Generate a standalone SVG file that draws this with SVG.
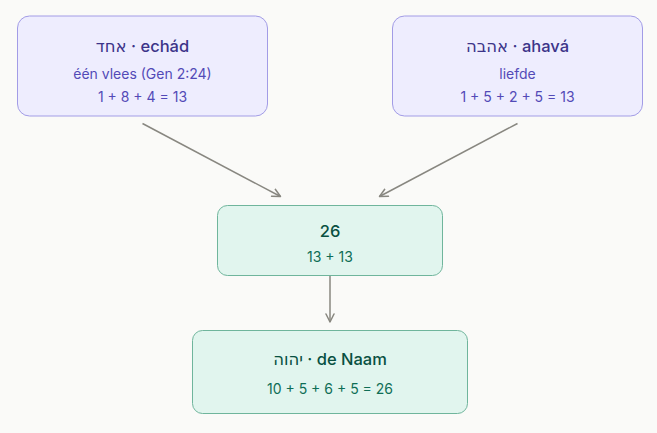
<svg xmlns="http://www.w3.org/2000/svg" width="657" height="433" viewBox="0 0 657 433">
<defs>
<style>
text{font-family:Inter,"Noto Sans","DejaVu Sans",sans-serif;text-anchor:middle}
.p{fill:#EEEDFE;stroke:#A29CE6;stroke-width:1}
.g{fill:#E1F5EE;stroke:#6FB59C;stroke-width:1}
.pt{fill:#3C3489;font-size:16.5px;font-weight:500}
.ps{fill:#534AB7;font-size:14px}
.gt{fill:#085041;font-size:16.5px;font-weight:500}
.gs{fill:#0F6E56;font-size:14px}
.c{stroke:#888780;stroke-width:1.5;fill:none}
</style>
<marker id="ah" viewBox="0 0 10 10" refX="9" refY="5" markerWidth="10" markerHeight="10" markerUnits="userSpaceOnUse" orient="auto">
<path d="M1 1L9 5L1 9" fill="none" stroke="#888780" stroke-width="1.5" stroke-linecap="round" stroke-linejoin="round"/>
</marker>
</defs>
<rect width="657" height="433" fill="#FAFAF8"/>
<g id="connectors">
<line class="c" x1="142.5" y1="123.5" x2="280.5" y2="196.5" marker-end="url(#ah)"/>
<line class="c" x1="517.5" y1="123.5" x2="379.5" y2="196.5" marker-end="url(#ah)"/>
<line class="c" x1="330" y1="276" x2="330" y2="322" marker-end="url(#ah)"/>
</g>
<g id="echad">
<rect class="p" x="17.5" y="16" width="250" height="100" rx="12"/>
<text class="pt" x="142.5" y="52">אחד · echád</text>
<text class="ps" x="142.5" y="79">één vlees (Gen 2:24)</text>
<text class="ps" x="142.5" y="102">1 + 8 + 4 = 13</text>
</g>
<g id="ahava">
<rect class="p" x="392.5" y="16" width="250" height="100" rx="12"/>
<text class="pt" x="517.5" y="52">אהבה · ahavá</text>
<text class="ps" x="517.5" y="79">liefde</text>
<text class="ps" x="517.5" y="102">1 + 5 + 2 + 5 = 13</text>
</g>
<g id="sum">
<rect class="g" x="217.5" y="205.5" width="225" height="70" rx="10"/>
<text class="gt" x="330" y="237">26</text>
<text class="gs" x="330" y="262">13 + 13</text>
</g>
<g id="naam">
<rect class="g" x="192.5" y="330.5" width="275" height="83" rx="10"/>
<text class="gt" x="330" y="365">יהוה · de Naam</text>
<text class="gs" x="330" y="394">10 + 5 + 6 + 5 = 26</text>
</g>
</svg>
